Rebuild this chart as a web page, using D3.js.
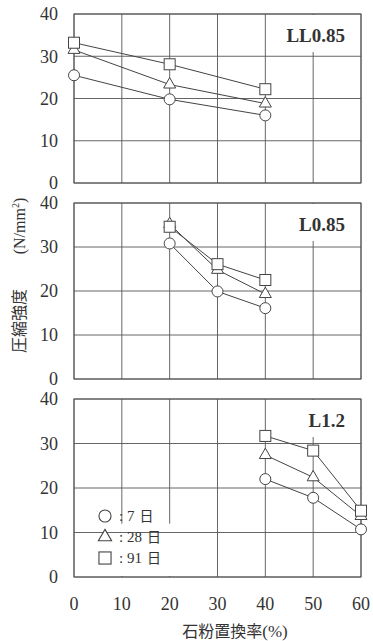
<!DOCTYPE html>
<html><head><meta charset="utf-8">
<script src="https://cdn.jsdelivr.net/npm/d3@7"></script>
<style>body{margin:0;background:#fff}svg{display:block}</style>
</head><body>
<svg id="c" width="373" height="641"></svg>
<script>
// ---- data ----
const xTicks = [0, 10, 20, 30, 40, 50, 60];
const yTicks = [0, 10, 20, 30, 40];
const panelNames = ["LL0.85", "L0.85", "L1.2"];
const seriesAges = ["7", "28", "91"];
const seriesUnit = "日";
const seriesShapes = ["circle", "triangle", "square"];

const ll085X = [0, 20, 40];
const ll085Day7 = [25.5, 19.8, 16.0];
const ll085Day28 = [31.5, 23.3, 18.8];
const ll085Day91 = [33.2, 28.1, 22.2];

const l085X = [20, 30, 40];
const l085Day7 = [30.8, 19.9, 16.1];
const l085Day28 = [35.2, 24.8, 19.3];
const l085Day91 = [34.6, 26.1, 22.5];

const l12X = [40, 50, 60];
const l12Day7 = [22.0, 17.8, 10.7];
const l12Day28 = [27.4, 22.4, 13.7];
const l12Day91 = [31.7, 28.4, 14.9];

const panels = [
  {name: panelNames[0], x: ll085X, series: [ll085Day7, ll085Day28, ll085Day91]},
  {name: panelNames[1], x: l085X, series: [l085Day7, l085Day28, l085Day91]},
  {name: panelNames[2], x: l12X, series: [l12Day7, l12Day28, l12Day91]}
];

// ---- layout ----
const svg = d3.select("#c");
const serif = "'Liberation Serif','Times New Roman',serif";
const cjk = "'Noto Sans CJK JP','Noto Sans',sans-serif";
const gridColor = "#555";
const markColor = "#444";
const x = d3.scaleLinear().domain([0, 60]).range([74, 361]);
const panelTops = [14, 203, 399];
const panelBottoms = [183, 379, 577];

function marker(g, shape, cx, cy, sc) {
  sc = sc || 1;
  if (shape === "circle") {
    g.append("circle").attr("cx", cx).attr("cy", cy).attr("r", 5.5 * sc);
  } else if (shape === "square") {
    const h = 5.5 * sc;
    g.append("rect").attr("x", cx - h).attr("y", cy - h).attr("width", 2 * h).attr("height", 2 * h);
  } else {
    const s = 12 * sc, h = s * Math.sqrt(3) / 2;
    g.append("path").attr("d",
      `M${cx},${cy - h * 2 / 3}L${cx + s / 2},${cy + h / 3}L${cx - s / 2},${cy + h / 3}Z`);
  }
}

panels.forEach((p, i) => {
  const y = d3.scaleLinear().domain([0, 40]).range([panelBottoms[i], panelTops[i]]);
  const g = svg.append("g");
  g.selectAll(".vg").data(xTicks).join("line")
    .attr("x1", d => x(d)).attr("x2", d => x(d))
    .attr("y1", y(0)).attr("y2", y(40))
    .attr("stroke", gridColor).attr("stroke-width", 0.9);
  const baseY = panelTops[i] + 28;
  g.append("rect").attr("x", x(45) + 2).attr("y", y(40) + 1)
    .attr("width", x(58.5) - x(45)).attr("height", baseY + 10 - y(40) - 1)
    .attr("fill", "#fff");
  if (i === 2) {
    g.append("rect").attr("x", x(4.2)).attr("y", y(7.5) - 20)
      .attr("width", x(22) - x(4.2)).attr("height", y(0) - (y(7.5) - 20) - 1)
      .attr("fill", "#fff");
  }
  g.selectAll(".hg").data(yTicks).join("line")
    .attr("x1", x(0)).attr("x2", x(60))
    .attr("y1", d => y(d)).attr("y2", d => y(d))
    .attr("stroke", gridColor).attr("stroke-width", 0.9);
  g.append("rect").attr("x", x(0)).attr("y", y(40))
    .attr("width", x(60) - x(0)).attr("height", y(0) - y(40))
    .attr("fill", "none").attr("stroke", gridColor).attr("stroke-width", 1);
  g.selectAll(".yt").data(yTicks).join("text")
    .attr("x", 58).attr("y", d => y(d)).attr("dy", "0.36em")
    .attr("text-anchor", "end").attr("font-family", serif).attr("font-size", 18)
    .attr("fill", "#333").text(d => d);
  g.append("text").attr("x", 345).attr("y", baseY).attr("text-anchor", "end")
    .attr("font-family", serif).attr("font-weight", "bold").attr("font-size", 19)
    .attr("fill", "#333").text(p.name);
  p.series.forEach((vals) => {
    const line = d3.line().x((d, j) => x(p.x[j])).y(d => y(d));
    g.append("path").attr("d", line(vals)).attr("fill", "none")
      .attr("stroke", markColor).attr("stroke-width", 1);
  });
  p.series.forEach((vals, k) => {
    const mg = g.append("g").attr("fill", "#fff").attr("stroke", markColor).attr("stroke-width", 1);
    vals.forEach((v, j) => marker(mg, seriesShapes[k], x(p.x[j]), y(v)));
  });
  if (i === 2) {
    const lg = svg.append("g");
    seriesAges.forEach((s, k) => {
      const cy = 516 + k * 21;
      const mg = lg.append("g").attr("fill", "#fff").attr("stroke", "#444").attr("stroke-width", 1.1);
      marker(mg, seriesShapes[k], 105, cy, 1.1);
      lg.append("text").attr("x", 119).attr("y", cy).attr("dy", "0.36em")
        .attr("font-family", serif).attr("font-size", 15).attr("fill", "#333").text(":");
      const num = lg.append("text").attr("x", 127).attr("y", cy).attr("dy", "0.36em")
        .attr("font-family", serif).attr("font-size", 15).attr("fill", "#333").text(s);
      const w = num.node().getComputedTextLength();
      lg.append("text").attr("x", 127 + w + 5).attr("y", cy).attr("dy", "0.36em")
        .attr("font-family", cjk).attr("font-size", 14).attr("fill", "#333").text(seriesUnit);
    });
  }
});

svg.selectAll(".xt").data(xTicks).join("text")
  .attr("x", d => x(d)).attr("y", 610).attr("text-anchor", "middle")
  .attr("font-family", serif).attr("font-size", 18).attr("fill", "#333").text(d => d);

const xt = svg.append("text").attr("x", 235).attr("y", 637).attr("text-anchor", "middle")
  .attr("font-family", cjk).attr("font-size", 16).attr("fill", "#333");
xt.append("tspan").text("石粉置換率");
xt.append("tspan").attr("font-family", serif).attr("font-size", 17).text("(%)");

svg.append("text").attr("transform", "translate(25,321) rotate(-90)")
  .attr("text-anchor", "middle").attr("font-family", cjk).attr("font-size", 16)
  .attr("fill", "#333").text("圧縮強度");
const yu = svg.append("text").attr("transform", "translate(25,226) rotate(-90)")
  .attr("text-anchor", "middle").attr("font-family", serif).attr("font-size", 16)
  .attr("fill", "#333");
yu.append("tspan").text("(N/mm");
yu.append("tspan").attr("font-size", 10).attr("dy", -6).text("2");
yu.append("tspan").attr("dy", 6).text(")");
</script>
</body></html>
